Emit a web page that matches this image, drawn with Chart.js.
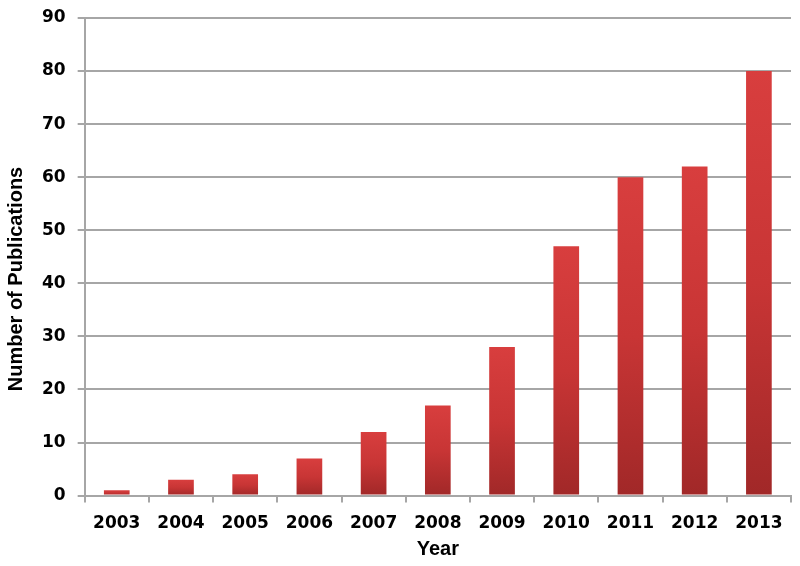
<!DOCTYPE html>
<html>
<head>
<meta charset="utf-8">
<script src="https://cdn.jsdelivr.net/npm/chart.js@4.4.0/dist/chart.umd.min.js"></script>
<style>
  html, body { margin: 0; padding: 0; background: #fff; }
  #wrap { width: 800px; height: 566px; }
</style>
</head>
<body>
<div id="wrap"><canvas id="chart" width="800" height="566"></canvas></div>
<script>
const years = ['2003', '2004', '2005', '2006', '2007', '2008', '2009', '2010', '2011', '2012', '2013'];
const publications = [1, 3, 4, 7, 12, 17, 28, 47, 60, 62, 80];

const gridColor = '#a6a6a6';
const tickFont = { family: 'DejaVu Sans, sans-serif', size: 17, weight: 'bold' };
const titleFont = { family: 'Liberation Sans, Arial, sans-serif', size: 20, weight: 'bold' };

// each bar gets its own vertical gradient: brighter red at the top, darker at the base
function barFill(context) {
  const chart = context.chart;
  const yScale = chart.scales.y;
  if (!chart.chartArea || !yScale || context.raw == null) return '#c83232';
  const top = yScale.getPixelForValue(context.raw);
  const base = yScale.getPixelForValue(0);
  const g = chart.ctx.createLinearGradient(0, top, 0, base);
  g.addColorStop(0, '#d83e3e');
  g.addColorStop(0.5, '#c83535');
  g.addColorStop(1, '#a12828');
  return g;
}

new Chart(document.getElementById('chart'), {
  type: 'bar',
  data: {
    labels: years,
    datasets: [{
      data: publications,
      backgroundColor: barFill,
      borderWidth: 0,
      barPercentage: 0.4,
      categoryPercentage: 1.0
    }]
  },
  options: {
    responsive: false,
    animation: false,
    layout: { padding: { top: 0, right: 9, left: 4, bottom: 5 } },
    plugins: {
      legend: { display: false },
      tooltip: { enabled: false }
    },
    scales: {
      x: {
        offset: true,
        grid: {
          offset: true,
          drawOnChartArea: false,
          drawTicks: true,
          tickLength: 7,
          color: gridColor,
          lineWidth: 2
        },
        border: { color: gridColor, width: 2 },
        ticks: {
          color: '#000',
          padding: 11,
          maxRotation: 0,
          font: tickFont
        },
        title: {
          display: true,
          text: 'Year',
          color: '#000',
          padding: { top: -8, bottom: 0 },
          font: titleFont
        }
      },
      y: {
        min: 0,
        max: 90,
        ticks: {
          stepSize: 10,
          color: '#000',
          padding: 12,
          font: { ...tickFont, lineHeight: 0.7 }
        },
        grid: {
          color: gridColor,
          lineWidth: 2,
          tickLength: 7
        },
        border: { color: gridColor, width: 2 },
        title: {
          display: true,
          // trailing spaces push the centred title a little lower, as in the original
          text: 'Number of Publications        ',
          color: '#000',
          padding: { top: 0, bottom: 2 },
          font: titleFont
        }
      }
    }
  }
});
</script>
</body>
</html>
